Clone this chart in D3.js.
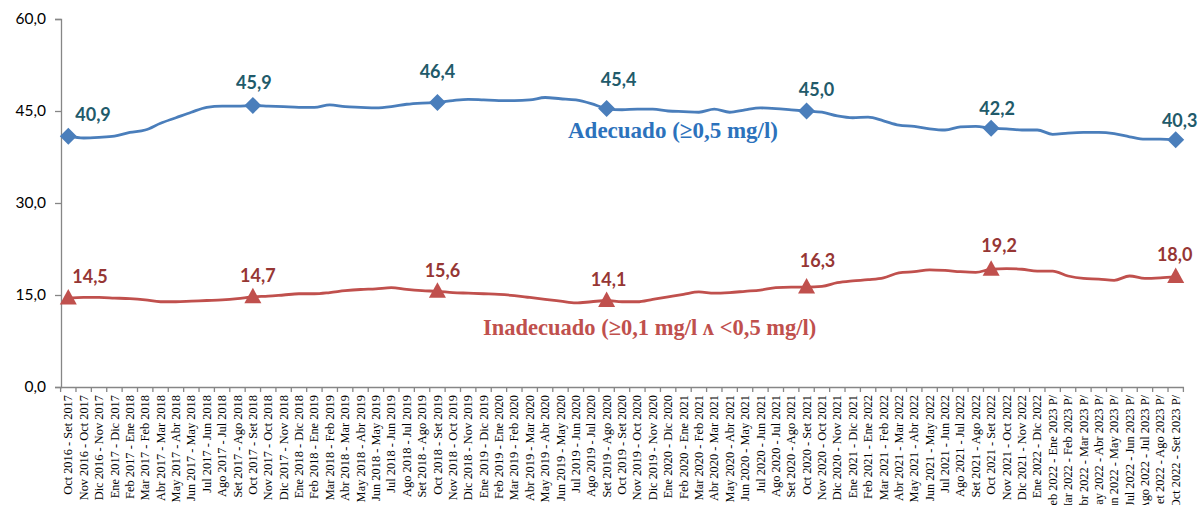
<!DOCTYPE html>
<html><head><meta charset="utf-8">
<script src="https://cdn.jsdelivr.net/npm/d3@7"></script>
<style>html,body{margin:0;padding:0;background:#fff;overflow:hidden}</style>
</head><body>
<svg id="c" width="1199" height="505"></svg>
<script>
const categories = [
"Oct 2016 - Set 2017","Nov 2016 - Oct 2017","Dic 2016 - Nov 2017","Ene 2017 - Dic 2017","Feb 2017 - Ene 2018","Mar 2017 - Feb 2018",
"Abr 2017 - Mar 2018","May 2017 - Abr 2018","Jun 2017 - May 2018","Jul 2017 - Jun 2018","Ago 2017 - Jul 2018","Set 2017 - Ago 2018",
"Oct 2017 - Set 2018","Nov 2017 - Oct 2018","Dic 2017 - Nov 2018","Ene 2018 - Dic 2018","Feb 2018 - Ene 2019","Mar 2018 - Feb 2019",
"Abr 2018 - Mar 2019","May 2018 - Abr 2019","Jun 2018 - May 2019","Jul 2018 - Jun 2019","Ago 2018 - Jul 2019","Set 2018 - Ago 2019",
"Oct 2018 - Set 2019","Nov 2018 - Oct 2019","Dic 2018 - Nov 2019","Ene 2019 - Dic 2019","Feb 2019 - Ene 2020","Mar 2019 - Feb 2020",
"Abr 2019 - Mar 2020","May 2019 - Abr 2020","Jun 2019 - May 2020","Jul 2019 - Jun 2020","Ago 2019 - Jul 2020","Set 2019 - Ago 2020",
"Oct 2019 - Set 2020","Nov 2019 - Oct 2020","Dic 2019 - Nov 2020","Ene 2020 - Dic 2020","Feb 2020 - Ene 2021","Mar 2020 - Feb 2021",
"Abr 2020 - Mar 2021","May 2020 - Abr 2021","Jun 2020 - May 2021","Jul 2020 - Jun 2021","Ago 2020 - Jul 2021","Set 2020 - Ago 2021",
"Oct 2020 - Set 2021","Nov 2020 - Oct 2021","Dic 2020 - Nov 2021","Ene 2021 - Dic 2021","Feb 2021 - Ene 2022","Mar 2021 - Feb 2022",
"Abr 2021 - Mar 2022","May 2021 - Abr 2022","Jun 2021 - May 2022","Jul 2021 - Jun 2022","Ago 2021 - Jul 2022","Set 2021 - Ago 2022",
"Oct 2021 - Set 2022","Nov 2021 - Oct 2022","Dic 2021 - Nov 2022","Ene 2022 - Dic 2022","Feb 2022 - Ene 2023 P/","Mar 2022 - Feb 2023 P/",
"Abr 2022 - Mar 2023 P/","May 2022 - Abr 2023 P/","Jun 2022 - May 2023 P/","Jul 2022 - Jun 2023 P/","Ago 2022 - Jul 2023 P/","Set 2022 - Ago 2023 P/",
"Oct 2022 - Set 2023 P/"
];
const adecuado = [
40.9,40.6,40.7,40.9,41.5,41.9,43.0,43.9,44.8,45.6,45.8,45.8,
45.9,45.8,45.7,45.6,45.6,46.0,45.7,45.6,45.5,45.7,46.1,46.3,
46.4,46.7,46.9,46.8,46.7,46.7,46.8,47.2,47.0,46.8,46.2,45.4,
45.2,45.3,45.3,45.0,44.9,44.8,45.3,44.8,45.2,45.5,45.4,45.2,
45.0,44.8,44.2,43.9,44.0,43.4,42.7,42.5,42.1,41.9,42.4,42.5,
42.2,42.1,41.9,41.9,41.2,41.4,41.5,41.5,41.3,40.8,40.4,40.4,
40.3];
const inadecuado = [
14.5,14.6,14.6,14.5,14.4,14.2,13.9,13.9,14.0,14.1,14.2,14.4,
14.7,14.8,15.0,15.2,15.2,15.4,15.7,15.9,16.0,16.2,15.9,15.7,
15.6,15.4,15.3,15.2,15.1,14.9,14.6,14.3,14.0,13.7,13.9,14.1,
13.9,13.9,14.3,14.7,15.1,15.5,15.3,15.4,15.6,15.8,16.2,16.3,
16.3,16.4,17.0,17.3,17.5,17.8,18.6,18.8,19.1,19.0,18.8,18.7,
19.2,19.3,19.2,18.9,18.9,18.1,17.7,17.6,17.4,18.1,17.7,17.8,
18.0];
const markerIdx = [0,12,24,35,48,60,72];
const yTicks = [0,15,30,45,60];
const seriesNames = ["Adecuado (\u22650,5 mg/l)", "Inadecuado (\u22650,1 mg/l \u028C <0,5 mg/l)"];

// ---- drawing ----
const svg = d3.select("#c");
const x = d3.scaleBand().domain(categories).range([60.6, 1183.4]).paddingInner(0).paddingOuter(0);
const cx = c => x(c) + x.bandwidth()/2;
const y = d3.scaleLinear().domain([0,60]).range([387,19]);
const fmt = v => d3.format(".1f")(v).replace(".", ",");
const axisCol = "#868686";

// y axis
const ya = svg.append("g").attr("transform","translate(61,0)")
  .call(d3.axisLeft(y).tickValues(yTicks).tickSize(6).tickFormat(fmt));
ya.select(".domain").attr("stroke",axisCol).attr("stroke-width",1.3);
ya.selectAll(".tick line").attr("stroke",axisCol).attr("stroke-width",1.3);
ya.selectAll(".tick text").attr("x",-15).attr("fill","#000")
  .style("font-family","Lato, 'Open Sans', sans-serif").style("font-size","15.5px");

// x axis
const xa = svg.append("g").attr("transform","translate(0,387)")
  .call(d3.axisBottom(x).tickSize(0).tickSizeOuter(0));
xa.select(".domain").attr("stroke",axisCol).attr("stroke-width",1.3);
xa.selectAll(".tick text")
  .attr("transform","rotate(-90)")
  .attr("text-anchor","end")
  .attr("x",-8).attr("y",0).attr("dy","0.33em")
  .attr("fill","#000")
  .style("font-family","'Liberation Serif','Times New Roman',serif").style("font-size","12.4px");
// boundary tick marks
const bounds = categories.map(c => x(c)).concat([x(categories[categories.length-1]) + x.bandwidth()]);
xa.selectAll(".btick").data(bounds).enter().append("line")
  .attr("x1",d=>d).attr("x2",d=>d).attr("y1",0).attr("y2",5)
  .attr("stroke",axisCol).attr("stroke-width",1.3);

const line = d3.line().x((d,i)=>cx(categories[i])).y(d=>y(d)).curve(d3.curveMonotoneX);

const blue = "#4A7EBB", red = "#C0504D";
svg.append("path").datum(adecuado).attr("d",line).attr("fill","none").attr("stroke",blue).attr("stroke-width",2.8).attr("stroke-linejoin","round");
svg.append("path").datum(inadecuado).attr("d",line).attr("fill","none").attr("stroke",red).attr("stroke-width",2.8).attr("stroke-linejoin","round");

// markers
svg.selectAll(".dia").data(markerIdx).enter().append("path")
  .attr("transform",i=>`translate(${cx(categories[i])},${y(adecuado[i])})`)
  .attr("d","M0,-8.5L8.5,0L0,8.5L-8.5,0Z")
  .attr("fill",blue);
svg.selectAll(".tri").data(markerIdx).enter().append("path")
  .attr("transform",i=>`translate(${cx(categories[i])},${y(inadecuado[i])})`)
  .attr("d","M0,-9L8.5,6.5L-8.5,6.5Z")
  .attr("fill",red);

// data labels (manual offsets like the original)
const blueOff = [[7,-15,"start"],[1,-16],[0,-24],[12,-23],[10,-15],[6,-13],[4,-13]];
const redOff  = [[4,-15,"start"],[5,-15],[5,-14],[2,-15],[11,-20],[8,-17],[-1,-16]];
function labels(data, off, col){
  svg.selectAll(null).data(markerIdx).enter().append("text")
    .attr("x",(i,k)=>cx(categories[i]) + off[k][0])
    .attr("y",(i,k)=>y(data[i]) + off[k][1])
    .attr("text-anchor",(i,k)=>off[k][2]||"middle")
    .attr("fill",col)
    .style("font-family","Lato, 'Open Sans', sans-serif").style("font-weight","700").style("font-size","18px")
    .text(i=>fmt(data[i]));
}
labels(adecuado, blueOff, "#215A6A");
labels(inadecuado, redOff, "#963634");

// series name labels
svg.append("text").attr("x",568).attr("y",138).attr("fill","#2C72BC")
  .style("font-family","'Liberation Serif','Times New Roman',serif").style("font-weight","700").style("font-size","23px")
  .text(seriesNames[0]);
svg.append("text").attr("x",483).attr("y",335).attr("fill",red)
  .style("font-family","'Liberation Serif','Times New Roman',serif").style("font-weight","700").style("font-size","22.5px")
  .text(seriesNames[1]);
</script>
</body></html>
